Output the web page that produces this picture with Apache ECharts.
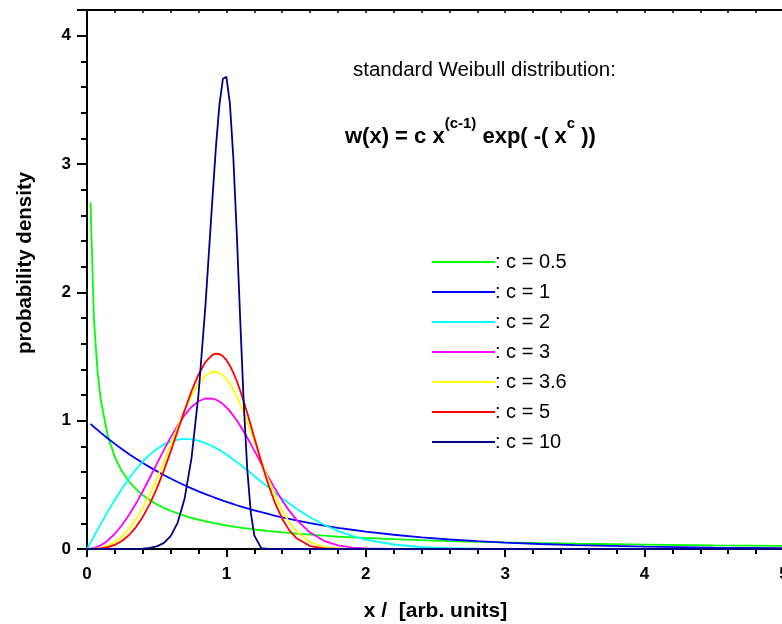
<!DOCTYPE html>
<html>
<head>
  <meta charset="UTF-8" />
  <title>standard Weibull distribution</title>
  <script src="https://cdn.jsdelivr.net/npm/echarts@6/dist/echarts.min.js"></script>
</head>
<body style="margin: 0">
  <div id="container" style="width: 782px; height: 624px"></div>
  <script type="text/javascript">
    // x positions of the samples (shared by all curves)
    var xs = [0, 0.025, 0.05, 0.075, 0.1, 0.15, 0.2, 0.25, 0.3, 0.35, 0.4, 0.45, 0.5, 0.55, 0.6, 0.65, 0.7, 0.75, 0.8, 0.85,
      0.9, 0.925, 0.95, 0.975, 1.0, 1.025, 1.05, 1.075, 1.1, 1.125, 1.15, 1.175, 1.2, 1.25, 1.3, 1.35, 1.4, 1.45, 1.5,
      1.6, 1.7, 1.8, 1.9, 2.0, 2.2, 2.4, 2.6, 2.8, 3.0, 3.25, 3.5, 4.0, 4.5, 5.0];

    var legendNames = [": c = 0.5", ": c = 1", ": c = 2", ": c = 3", ": c = 3.6", ": c = 5", ": c = 10"];
    var colors = ["#00ff00", "#0000ff", "#00ffff", "#ff00ff", "#ffff00", "#ff0000", "#000080"];

    var c05 = [null, 2.700, 1.788, 1.388, 1.153, 0.876, 0.715, 0.607, 0.528, 0.468, 0.420, 0.381, 0.349, 0.321, 0.298, 0.277,
      0.259, 0.243, 0.229, 0.216, 0.204, 0.199, 0.194, 0.189, 0.184, 0.179, 0.175, 0.171, 0.167, 0.163, 0.160, 0.156,
      0.153, 0.146, 0.140, 0.135, 0.129, 0.125, 0.120, 0.112, 0.104, 0.097, 0.091, 0.086, 0.077, 0.069, 0.062, 0.056,
      0.051, 0.046, 0.041, 0.034, 0.028, 0.024];
    var c1 = [null, 0.975, 0.951, 0.928, 0.905, 0.861, 0.819, 0.779, 0.741, 0.705, 0.670, 0.638, 0.607, 0.577, 0.549, 0.522,
      0.497, 0.472, 0.449, 0.427, 0.407, 0.397, 0.387, 0.377, 0.368, 0.359, 0.350, 0.341, 0.333, 0.325, 0.317, 0.309,
      0.301, 0.287, 0.273, 0.259, 0.247, 0.235, 0.223, 0.202, 0.183, 0.165, 0.150, 0.135, 0.111, 0.091, 0.074, 0.061,
      0.050, 0.039, 0.030, 0.018, 0.011, 0.007];
    var c2 = [0, 0.050, 0.100, 0.149, 0.198, 0.293, 0.384, 0.470, 0.548, 0.619, 0.682, 0.735, 0.779, 0.813, 0.837, 0.852,
      0.858, 0.855, 0.844, 0.825, 0.801, 0.786, 0.771, 0.754, 0.736, 0.717, 0.697, 0.677, 0.656, 0.635, 0.613, 0.591,
      0.569, 0.524, 0.480, 0.436, 0.394, 0.354, 0.316, 0.247, 0.189, 0.141, 0.103, 0.073, 0.035, 0.015, 0.006, 0.002,
      0.001, 0, 0, 0, 0, 0];
    var c3 = [0, 0.002, 0.008, 0.017, 0.030, 0.067, 0.119, 0.185, 0.263, 0.352, 0.450, 0.555, 0.662, 0.768, 0.870, 0.963,
      1.043, 1.107, 1.151, 1.173, 1.172, 1.163, 1.149, 1.129, 1.104, 1.074, 1.039, 1.001, 0.959, 0.914, 0.867, 0.818,
      0.767, 0.665, 0.564, 0.467, 0.378, 0.299, 0.231, 0.128, 0.064, 0.029, 0.011, 0.004, 0, 0, 0, 0,
      0, 0, 0, 0, 0, 0];
    var c36 = [0, 0, 0.002, 0.004, 0.009, 0.026, 0.055, 0.097, 0.155, 0.230, 0.320, 0.427, 0.547, 0.677, 0.814, 0.950,
      1.080, 1.195, 1.288, 1.352, 1.381, 1.381, 1.372, 1.353, 1.324, 1.287, 1.241, 1.187, 1.127, 1.061, 0.990, 0.917,
      0.842, 0.689, 0.544, 0.413, 0.300, 0.209, 0.140, 0.054, 0.017, 0.004, 0.001, 0, 0, 0, 0, 0,
      0, 0, 0, 0, 0, 0];
    var c5 = [0, 0, 0.001, 0.002, 0.004, 0.014, 0.032, 0.062, 0.107, 0.169, 0.250, 0.350, 0.470, 0.607, 0.759, 0.919,
      1.079, 1.230, 1.360, 1.458, 1.513, 1.523, 1.519, 1.502, 1.472, 1.428, 1.373, 1.307, 1.231, 1.148, 1.058, 0.965,
      0.869, 0.680, 0.505, 0.355, 0.236, 0.147, 0.086, 0.023, 0.005, 0.001, 0, 0, 0, 0, 0, 0,
      0, 0, 0, 0, 0, 0];
    var c10 = [0, 0, 0, 0, 0, 0, 0, 0, 0, 0.001, 0.003, 0.008, 0.020, 0.046, 0.100, 0.204,
      0.392, 0.710, 1.206, 1.902, 2.734, 3.134, 3.463, 3.664, 3.679, 3.472, 3.043, 2.441, 1.763, 1.122, 0.616, 0.283,
      0.106, 0.007, 0, 0, 0, 0, 0, 0, 0, 0, 0, 0, 0, 0, 0, 0,
      0, 0, 0, 0, 0, 0];

    var curves = [c05, c1, c2, c3, c36, c5, c10];

    var dom = document.getElementById("container");
    var myChart = echarts.init(dom, null, { renderer: "canvas" });

    var font = "Liberation Sans, Arial, sans-serif";

    var series = curves.map(function (ys, k) {
      return {
        name: legendNames[k],
        type: "line",
        xAxisIndex: 0,
        yAxisIndex: 0,
        showSymbol: false,
        symbol: "none",
        lineStyle: { width: 1.8, color: colors[k] },
        itemStyle: { color: colors[k] },
        data: xs.map(function (x, i) { return [x, ys[i]]; })
      };
    });

    var option = {
      animation: false,
      backgroundColor: "#fff",
      grid: { left: 87, top: 10, width: 697, bottom: 75, outerBoundsMode: "none", containLabel: false },
      legend: {
        orient: "vertical",
        left: 432,
        top: 252,
        padding: 0,
        itemWidth: 63,
        itemHeight: 2,
        itemGap: 10,
        icon: "rect",
        textStyle: { fontFamily: font, fontSize: 20, color: "#000", padding: [0, 0, 0, -5] },
        data: legendNames
      },
      xAxis: [
        {
          type: "value", min: 0, max: 5, interval: 1,
          name: "x /  [arb. units]", nameLocation: "middle", nameGap: 52,
          nameTextStyle: { fontFamily: font, fontSize: 21, fontWeight: "bold", color: "#000" },
          axisLine: { lineStyle: { color: "#000", width: 2 } },
          axisTick: { length: 8, lineStyle: { color: "#000", width: 2 } },
          minorTick: { show: true, splitNumber: 5, length: 5, lineStyle: { color: "#000", width: 2 } },
          axisLabel: { fontFamily: font, fontSize: 17, fontWeight: "bold", color: "#000", margin: 17 },
          splitLine: { show: false }
        },
        {
          type: "value", min: 0, max: 5, interval: 0.2, position: "top",
          axisLine: { onZero: false, lineStyle: { color: "#000", width: 2 } },
          axisTick: { inside: true, length: 3, lineStyle: { color: "#000", width: 1.5 } },
          axisLabel: { show: false },
          splitLine: { show: false }
        }
      ],
      yAxis: [
        {
          type: "value", min: 0, max: 4.2, interval: 1,
          axisLine: { onZero: false, lineStyle: { color: "#000", width: 2 } },
          axisTick: { length: 10, lineStyle: { color: "#000", width: 2 } },
          axisLabel: {
            fontFamily: font, fontSize: 17, fontWeight: "bold", color: "#000", margin: 16,
            formatter: function (v) { return Number.isInteger(v) ? String(v) : ""; }
          },
          splitLine: { show: false }
        },
        {
          type: "value", min: 0, max: 4.2, interval: 0.2, position: "left",
          axisLine: { show: false },
          axisTick: { length: 6, lineStyle: { color: "#000", width: 2 } },
          axisLabel: { show: false },
          splitLine: { show: false }
        }
      ],
      graphic: [
        {
          type: "text", x: 25, y: 263, rotation: Math.PI / 2,
          style: {
            text: "probability density", font: "bold 20.5px " + font, fill: "#000",
            align: "center", verticalAlign: "middle"
          }
        },
        {
          type: "text", left: 353, top: 60,
          style: { text: "standard Weibull distribution:", font: "20.5px " + font, fill: "#000" }
        },
        {
          type: "text", left: 345, top: 116,
          style: {
            text: "{b|w(x) = c x}{s|(c-1)}{b| exp( -( x}{s|c}{b| ))}",
            fill: "#000",
            rich: {
              b: { fontFamily: font, fontSize: 22, fontWeight: "bold", fill: "#000", lineHeight: 32, verticalAlign: "bottom" },
              s: { fontFamily: font, fontSize: 15, fontWeight: "bold", fill: "#000", lineHeight: 32, verticalAlign: "top" }
            }
          }
        }
      ],
      series: series
    };

    myChart.setOption(option);
  </script>
</body>
</html>
